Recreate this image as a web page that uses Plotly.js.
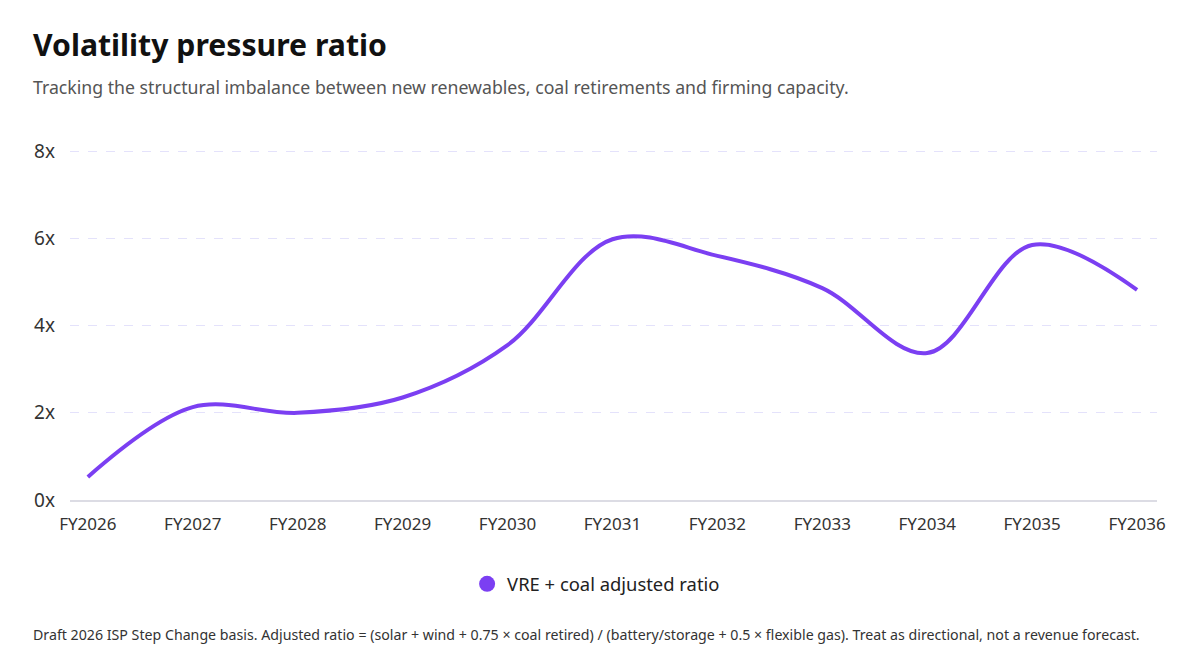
<!DOCTYPE html>
<html>
<head>
<meta charset="utf-8">
<script src="https://cdn.plot.ly/plotly-3.0.1.min.js"></script>
<style>
html,body{margin:0;padding:0;background:#fff;}
#chart{width:1191px;height:671px;}
</style>
</head>
<body>
<div id="chart"></div>
<script>
const categories = ["FY2026","FY2027","FY2028","FY2029","FY2030","FY2031","FY2032","FY2033","FY2034","FY2035","FY2036"];
const ratioValues = [0.53, 2.13, 2.0, 2.35, 3.55, 5.98, 5.6, 4.86, 3.37, 5.85, 4.82];
const yTickValues = [0, 2, 4, 6, 8];
const yTickLabels = ["0x", "2x", "4x", "6x", "8x"];
const seriesName = "VRE + coal adjusted ratio";
const titleText = "Volatility pressure ratio";
const subtitleText = "Tracking the structural imbalance between new renewables, coal retirements and firming capacity.";
const footnoteText = "Draft 2026 ISP Step Change basis. Adjusted ratio = (solar + wind + 0.75 × coal retired) / (battery/storage + 0.5 × flexible gas). Treat as directional, not a revenue forecast.";

const FONT = '"Noto Sans", "Open Sans", sans-serif';
const COLOR = '#7b3ff2';

const traces = [
  {
    x: categories,
    y: ratioValues,
    type: 'scatter',
    mode: 'lines',
    line: {color: COLOR, width: 4, shape: 'spline', smoothing: 1},
    showlegend: false,
    hoverinfo: 'x+y'
  },
  {
    x: [null],
    y: [null],
    type: 'scatter',
    mode: 'markers',
    name: seriesName,
    marker: {color: COLOR, size: 22, symbol: 'circle'},
    showlegend: true
  }
];

const layout = {
  width: 1191,
  height: 671,
  paper_bgcolor: '#ffffff',
  plot_bgcolor: '#ffffff',
  margin: {l: 70, r: 34, t: 149, b: 171},
  font: {family: FONT, color: '#333333'},
  xaxis: {
    type: 'category',
    range: [-0.17, 10.19],
    showgrid: false,
    zeroline: false,
    showline: true,
    linecolor: '#dcdce4',
    linewidth: 2,
    ticks: '',
    ticklabelstandoff: 8,
    tickfont: {family: FONT, size: 17, color: '#333333'},
    fixedrange: true
  },
  yaxis: {
    range: [0, 8.05],
    tickvals: yTickValues,
    ticktext: yTickLabels,
    showgrid: true,
    gridcolor: '#e4e2fb',
    griddash: 'dash',
    gridwidth: 1,
    zeroline: false,
    showline: false,
    ticks: '',
    ticklabelstandoff: 14,
    tickfont: {family: FONT, size: 19, color: '#333333'},
    fixedrange: true
  },
  showlegend: true,
  legend: {
    orientation: 'h',
    x: 0.484,
    xanchor: 'center',
    y: -0.239,
    yanchor: 'middle',
    font: {family: FONT, size: 18.4, color: '#222222'},
    itemsizing: 'trace'
  },
  annotations: [
    {
      text: '<b>' + titleText + '</b>',
      xref: 'paper', yref: 'paper',
      x: -0.036, y: 1.299,
      xanchor: 'left', yanchor: 'middle',
      showarrow: false,
      font: {family: FONT, size: 30.2, color: '#111111'}
    },
    {
      text: subtitleText,
      xref: 'paper', yref: 'paper',
      x: -0.036, y: 1.177,
      xanchor: 'left', yanchor: 'middle',
      showarrow: false,
      font: {family: FONT, size: 17.7, color: '#555555'}
    },
    {
      text: footnoteText,
      xref: 'paper', yref: 'paper',
      x: -0.036, y: -0.382,
      xanchor: 'left', yanchor: 'middle',
      showarrow: false,
      font: {family: FONT, size: 14.2, color: '#333333'}
    }
  ]
};

Plotly.newPlot('chart', traces, layout, {displayModeBar: false, staticPlot: true});
</script>
</body>
</html>
